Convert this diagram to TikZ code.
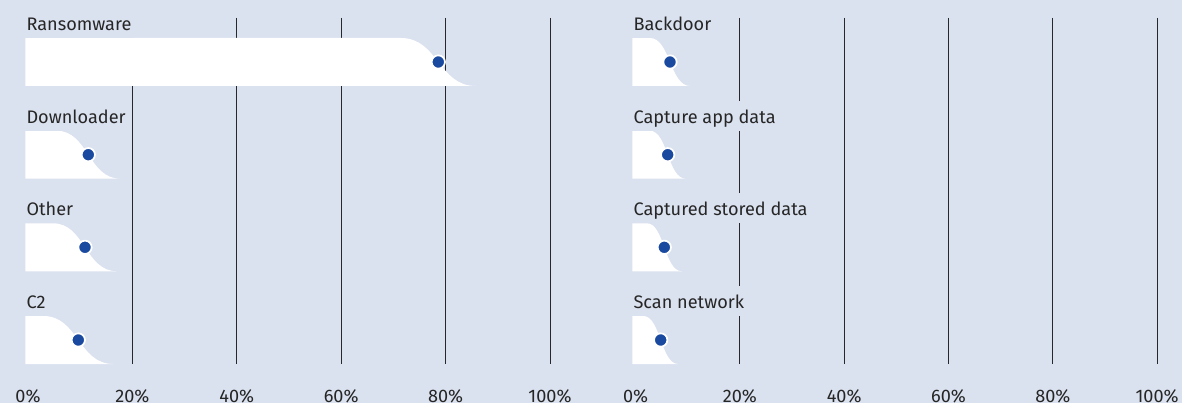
\documentclass[tikz,border=0pt]{standalone}
\usepackage{xcolor}
\usepackage{fontspec}
\setmainfont{Fira Sans}
\usepackage{tikz}

\definecolor{bgblue}{RGB}{218,225,239}
\definecolor{dotblue}{RGB}{26,74,160}
\definecolor{gridgray}{RGB}{40,40,44}

\begin{document}
\begin{tikzpicture}[x=0.75pt,y=0.75pt,yscale=-1,xscale=1,
  every node/.style={font=\fontsize{13.6}{16}\selectfont, text=black!85},
  gridline/.style={draw=gridgray, line width=0.75pt},
  barshape/.style={fill=white},
  rowlabel/.style={anchor=base west, fill=bgblue, inner xsep=1.5pt, inner ysep=0pt, text height=16.9pt, text depth=5.6pt},
  median/.style={circle, fill=dotblue, draw=white, line width=1.3pt, minimum size=10pt, inner sep=0pt},
  ticklabel/.style={anchor=base, inner sep=0pt}]
%set diagram left start at 0, and has height of 403
\useasboundingbox (0,0) rectangle (1182,403);
\fill [bgblue] (0,0) rectangle (1182,403);

%Straight Lines [left panel grid]
\draw [gridline] (132.4,18) -- (132.4,364) ;
\draw [gridline] (236.8,18) -- (236.8,364) ;
\draw [gridline] (341.2,18) -- (341.2,364) ;
\draw [gridline] (445.6,18) -- (445.6,364) ;
\draw [gridline] (550,18) -- (550,364) ;
%Straight Lines [right panel grid]
\draw [gridline] (739.9,18) -- (739.9,364) ;
\draw [gridline] (844.2,18) -- (844.2,364) ;
\draw [gridline] (948.5,18) -- (948.5,364) ;
\draw [gridline] (1052.8,18) -- (1052.8,364) ;
\draw [gridline] (1157.1,18) -- (1157.1,364) ;

%Shape: Ransomware
\path [barshape] (25.3,38) -- (400.8,38) .. controls (438.3,38) and (438.3,86) .. (475.8,86) -- (25.3,86) -- cycle ;
%Shape: Downloader
\path [barshape] (25.3,130.7) -- (56.3,130.7) .. controls (88.3,130.7) and (88.3,178.7) .. (120.3,178.7) -- (25.3,178.7) -- cycle ;
%Shape: Other
\path [barshape] (25.3,223.3) -- (53,223.3) .. controls (85,223.3) and (85,271.3) .. (117,271.3) -- (25.3,271.3) -- cycle ;
%Shape: C2
\path [barshape] (25.3,316) -- (43.3,316) .. controls (78.3,316) and (78.3,364) .. (113.3,364) -- (25.3,364) -- cycle ;
%Shape: Backdoor
\path [barshape] (632.3,38) -- (650,38) .. controls (670,38) and (670,86) .. (690,86) -- (632.3,86) -- cycle ;
%Shape: Capture app data
\path [barshape] (632.3,130.7) -- (649.7,130.7) .. controls (667.7,130.7) and (667.7,178.7) .. (685.7,178.7) -- (632.3,178.7) -- cycle ;
%Shape: Captured stored data
\path [barshape] (632.3,223.3) -- (646.8,223.3) .. controls (664.3,223.3) and (664.3,271.3) .. (681.8,271.3) -- (632.3,271.3) -- cycle ;
%Shape: Scan network
\path [barshape] (632.3,316) -- (643.2,316) .. controls (660.7,316) and (660.7,364) .. (678.2,364) -- (632.3,364) -- cycle ;

% Median dots
\node [median] (dotRansomware) at (438.3,62) {};
\node [median] (dotDownloader) at (88.3,154.7) {};
\node [median] (dotOther) at (85,247.3) {};
\node [median] (dotCtwo) at (78.3,340) {};
\node [median] (dotBackdoor) at (670,62) {};
\node [median] (dotCaptureApp) at (667.7,154.7) {};
\node [median] (dotCapturedStored) at (664.3,247.3) {};
\node [median] (dotScan) at (660.7,340) {};

% Text Node
\node [rowlabel] (lblRansomware) at (24.3,30.5) {Ransomware};
% Text Node
\node [rowlabel] (lblDownloader) at (24.3,123.2) {Downloader};
% Text Node
\node [rowlabel] (lblOther) at (24.3,215.8) {Other};
% Text Node
\node [rowlabel] (lblCtwo) at (24.3,308.5) {C2};
% Text Node
\node [rowlabel] (lblBackdoor) at (631.3,30.5) {Backdoor};
% Text Node
\node [rowlabel] (lblCaptureApp) at (631.3,123.2) {Capture app data};
% Text Node
\node [rowlabel] (lblCapturedStored) at (631.3,215.8) {Captured stored data};
% Text Node
\node [rowlabel] (lblScan) at (631.3,308.5) {Scan network};

% Axis labels left
\node [ticklabel] (tickLzero) at (28,402.5) {0\%};
\node [ticklabel] (tickLtwenty) at (132.4,402.5) {20\%};
\node [ticklabel] (tickLforty) at (236.8,402.5) {40\%};
\node [ticklabel] (tickLsixty) at (341.2,402.5) {60\%};
\node [ticklabel] (tickLeighty) at (445.6,402.5) {80\%};
\node [ticklabel] (tickLhundred) at (550,402.5) {100\%};
% Axis labels right
\node [ticklabel] (tickRzero) at (635.6,402.5) {0\%};
\node [ticklabel] (tickRtwenty) at (739.9,402.5) {20\%};
\node [ticklabel] (tickRforty) at (844.2,402.5) {40\%};
\node [ticklabel] (tickRsixty) at (948.5,402.5) {60\%};
\node [ticklabel] (tickReighty) at (1052.8,402.5) {80\%};
\node [ticklabel] (tickRhundred) at (1157.1,402.5) {100\%};

\end{tikzpicture}
\end{document}
